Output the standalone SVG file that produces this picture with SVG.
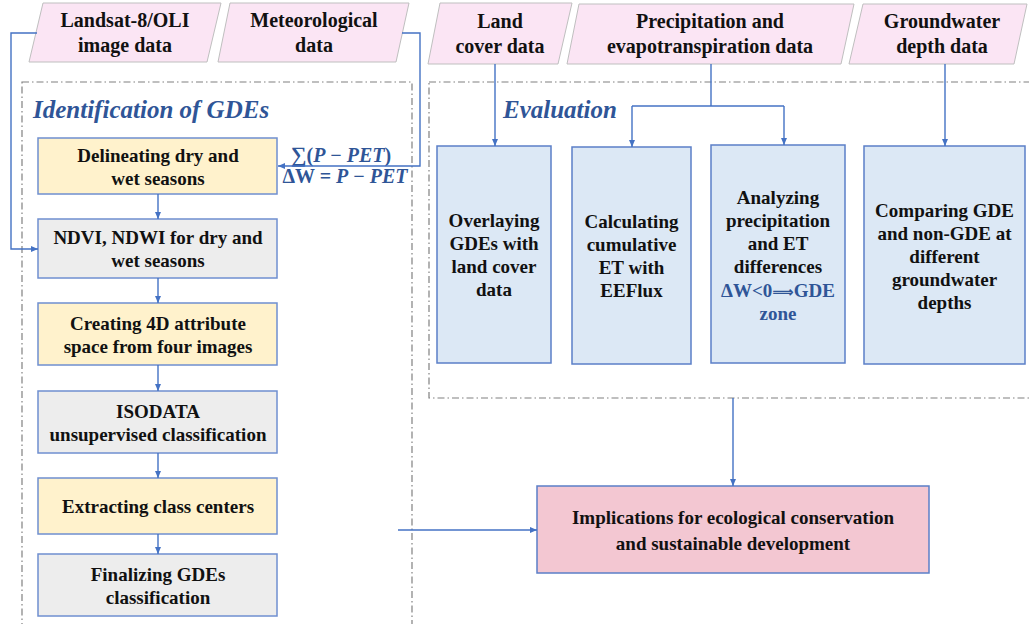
<svg xmlns="http://www.w3.org/2000/svg" width="1029" height="624" viewBox="0 0 1029 624">
<defs>
<marker id="arr" markerWidth="8" markerHeight="8" refX="7" refY="4" orient="auto" markerUnits="userSpaceOnUse">
<path d="M0,1 L7,4 L0,7 Z" fill="#4472C4"/>
</marker>
<style>
.para{fill:#FBE5F4;stroke:#BFBFBF;stroke-width:1}
.frame{fill:none;stroke:#808080;stroke-width:1.2;stroke-dasharray:7 3 1.5 3}
.yel{fill:#FFF2CC;stroke:#6F8FD0;stroke-width:1.5}
.gry{fill:#EDEDED;stroke:#6F8FD0;stroke-width:1.5}
.eva{fill:#DCE8F5;stroke:#5B7FC7;stroke-width:1.5}
.imp{fill:#F3C7D2;stroke:#5B7FC7;stroke-width:1.5}
.t{font-family:"Liberation Serif","Times New Roman",serif;font-weight:bold;font-size:19px;fill:#111;text-anchor:middle}
.tp{font-family:"Liberation Serif","Times New Roman",serif;font-weight:bold;font-size:20px;fill:#111;text-anchor:middle}
.ti{font-family:"Liberation Serif","Times New Roman",serif;font-weight:bold;font-style:italic;font-size:25px;fill:#2F5597}
.bl{fill:#2F5597}
.c{fill:none;stroke:#4472C4;stroke-width:1.4}
</style>
</defs>

<g id="frames">
<rect class="frame" x="22" y="82" width="390" height="580"/>
<rect class="frame" x="429" y="82" width="640" height="316"/>
<text class="ti" x="33" y="118">Identification of GDEs</text>
<text class="ti" x="503" y="118">Evaluation</text>
</g>

<g id="landsat">
<path class="para" d="M43,3 L221,3 L207,62 L29,62 Z"/>
<text class="tp" x="125" y="27">Landsat-8/OLI</text>
<text class="tp" x="125" y="52">image data</text>
</g>
<g id="meteo">
<path class="para" d="M230,3 L409,3 L396,62 L218,62 Z"/>
<text class="tp" x="314" y="27">Meteorological</text>
<text class="tp" x="314" y="52">data</text>
</g>
<g id="landcover">
<path class="para" d="M440,3 L572,3 L558,64 L428,64 Z"/>
<text class="tp" x="500" y="28">Land</text>
<text class="tp" x="500" y="53">cover data</text>
</g>
<g id="precip">
<path class="para" d="M579,4 L854,4 L841,64 L567,64 Z"/>
<text class="tp" x="710" y="28">Precipitation and</text>
<text class="tp" x="710" y="53">evapotranspiration data</text>
</g>
<g id="groundwater">
<path class="para" d="M863,4 L1027,4 L1014,64 L849,64 Z"/>
<text class="tp" x="942" y="28">Groundwater</text>
<text class="tp" x="942" y="53">depth data</text>
</g>

<g id="delineating">
<rect class="yel" x="38" y="138" width="239" height="56"/>
<text class="t" x="158" y="162">Delineating dry and</text>
<text class="t" x="158" y="185">wet seasons</text>
</g>
<g id="ndvi">
<rect class="gry" x="38" y="219" width="239" height="59"/>
<text class="t" x="158" y="244">NDVI, NDWI for dry and</text>
<text class="t" x="158" y="267">wet seasons</text>
</g>
<g id="creating">
<rect class="yel" x="38" y="303" width="239" height="62"/>
<text class="t" x="158" y="330">Creating 4D attribute</text>
<text class="t" x="158" y="353">space from four images</text>
</g>
<g id="isodata">
<rect class="gry" x="38" y="391" width="239" height="62"/>
<text class="t" x="158" y="418">ISODATA</text>
<text class="t" x="158" y="441">unsupervised classification</text>
</g>
<g id="extracting">
<rect class="yel" x="38" y="478" width="239" height="56"/>
<text class="t" x="158" y="513">Extracting class centers</text>
</g>
<g id="finalizing">
<rect class="gry" x="38" y="554" width="239" height="62"/>
<text class="t" x="158" y="581">Finalizing GDEs</text>
<text class="t" x="158" y="604">classification</text>
</g>

<g id="formula" font-family="Liberation Serif,'Times New Roman',serif" font-weight="bold" font-size="20" fill="#2F5597" text-anchor="middle">
<text x="341" y="162"><tspan font-size="22">∑</tspan>(<tspan font-style="italic">P</tspan> − <tspan font-style="italic">PET</tspan>)</text>
<text x="345" y="183">ΔW = <tspan font-style="italic">P</tspan> − <tspan font-style="italic">PET</tspan></text>
</g>

<g id="overlaying">
<rect class="eva" x="437" y="146" width="114" height="217"/>
<text class="t" x="494" y="227">Overlaying</text>
<text class="t" x="494" y="250">GDEs with</text>
<text class="t" x="494" y="273">land cover</text>
<text class="t" x="494" y="296">data</text>
</g>
<g id="calculating">
<rect class="eva" x="572" y="147" width="119" height="217"/>
<text class="t" x="631.5" y="228">Calculating</text>
<text class="t" x="631.5" y="251">cumulative</text>
<text class="t" x="631.5" y="274">ET with</text>
<text class="t" x="631.5" y="297">EEFlux</text>
</g>
<g id="analyzing">
<rect class="eva" x="711" y="145" width="134" height="218"/>
<text class="t" x="778" y="204">Analyzing</text>
<text class="t" x="778" y="227">precipitation</text>
<text class="t" x="778" y="250">and ET</text>
<text class="t" x="778" y="273">differences</text>
<text class="t bl" x="778" y="297">ΔW&lt;0<tspan font-family="DejaVu Sans,sans-serif" font-size="15">⟹</tspan>GDE</text>
<text class="t bl" x="778" y="320">zone</text>
</g>
<g id="comparing">
<rect class="eva" x="864" y="146" width="161" height="218"/>
<text class="t" x="944.5" y="217">Comparing GDE</text>
<text class="t" x="944.5" y="240">and non-GDE at</text>
<text class="t" x="944.5" y="263">different</text>
<text class="t" x="944.5" y="286">groundwater</text>
<text class="t" x="944.5" y="309">depths</text>
</g>

<g id="implications">
<rect class="imp" x="537" y="486" width="392" height="87"/>
<text class="t" x="733" y="524" font-size="21">Implications for ecological conservation</text>
<text class="t" x="733" y="550" font-size="21">and sustainable development</text>
</g>

<g id="connectors">
<path class="c" d="M37,33 L11,33 L11,249 L38,249" marker-end="url(#arr)"/>
<path class="c" d="M402,33 L420,33 L420,166 L278,166" marker-end="url(#arr)"/>
<path class="c" d="M158,194 L158,219" marker-end="url(#arr)"/>
<path class="c" d="M158,278 L158,303" marker-end="url(#arr)"/>
<path class="c" d="M158,365 L158,391" marker-end="url(#arr)"/>
<path class="c" d="M158,453 L158,478" marker-end="url(#arr)"/>
<path class="c" d="M158,534 L158,554" marker-end="url(#arr)"/>
<path class="c" d="M495,64 L495,146" marker-end="url(#arr)"/>
<path class="c" d="M711,64 L711,106"/>
<path class="c" d="M632,106 L784,106"/>
<path class="c" d="M632,106 L632,147" marker-end="url(#arr)"/>
<path class="c" d="M784,106 L784,145" marker-end="url(#arr)"/>
<path class="c" d="M945,64 L945,146" marker-end="url(#arr)"/>
<path class="c" d="M733,398 L733,486" marker-end="url(#arr)"/>
<path class="c" d="M398,530 L537,530" marker-end="url(#arr)"/>
</g>
</svg>
